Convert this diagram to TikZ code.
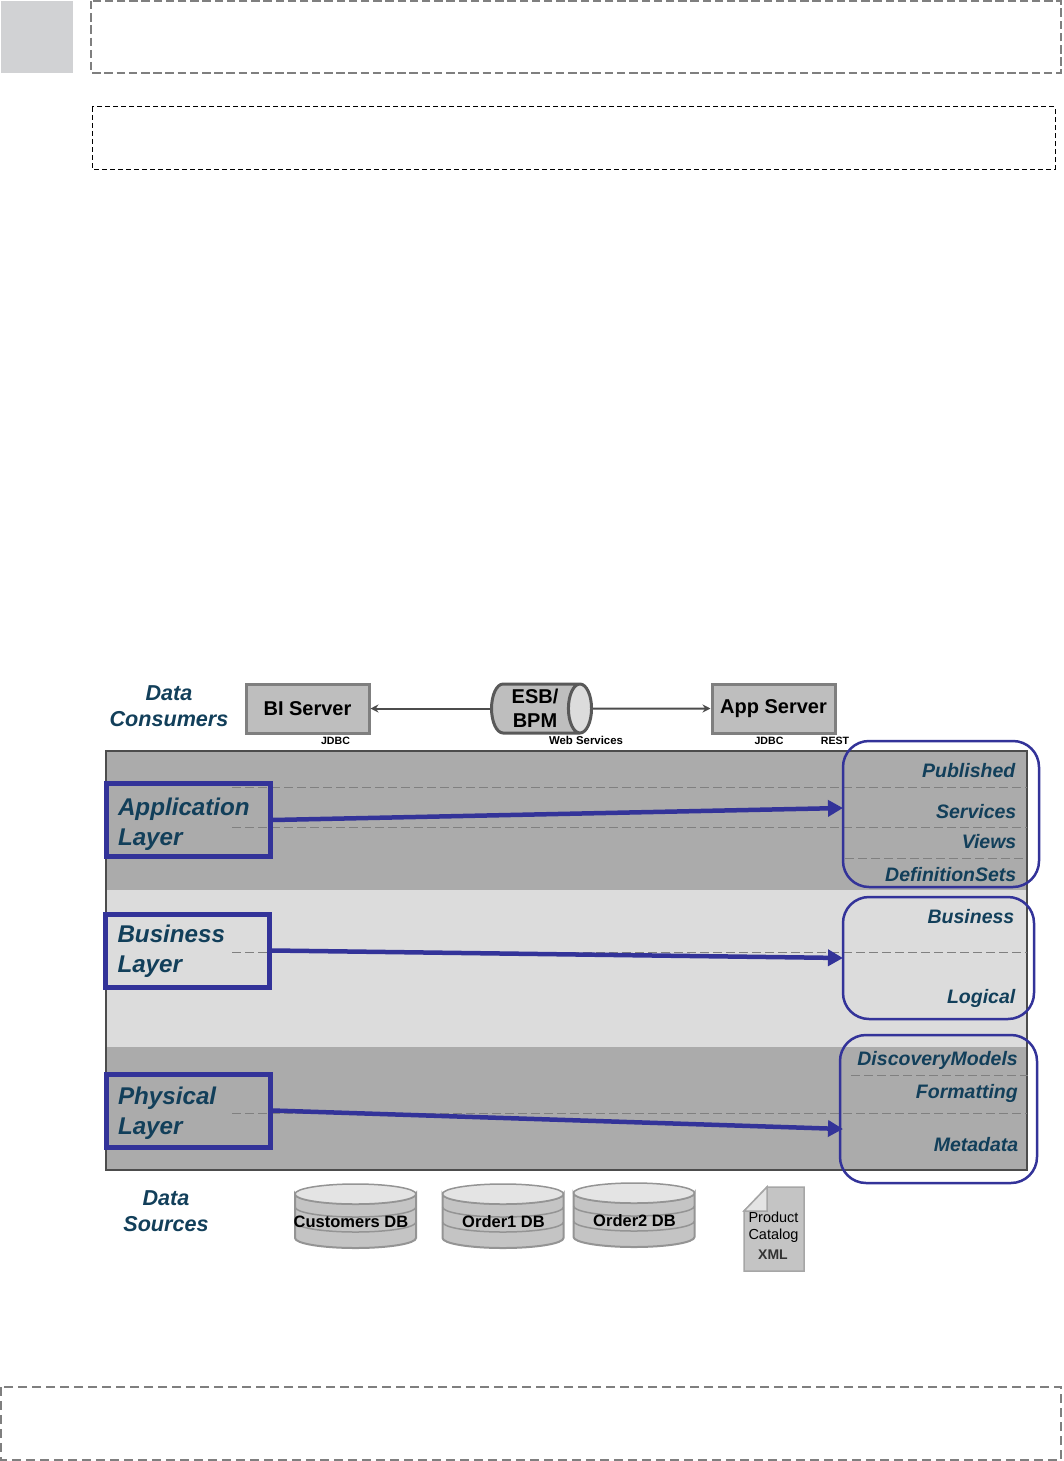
\documentclass[tikz,border=0pt]{standalone}
\usepackage{fontspec}
\setmainfont{Liberation Sans}
\usetikzlibrary{arrows.meta, shapes.geometric}
\definecolor{bandDark}{HTML}{ABABAB}
\definecolor{bandLight}{HTML}{DCDCDC}
\definecolor{layerBlue}{HTML}{333399}
\definecolor{labelText}{HTML}{123F5A}
\definecolor{serverFill}{HTML}{BEBEBE}
\definecolor{serverEdge}{HTML}{7F7F7F}
\definecolor{dbFill}{HTML}{C4C4C4}
\definecolor{dbTop}{HTML}{E4E4E4}
\tikzset{
  blankframe/.style={draw=serverEdge, line width=2pt, dash pattern=on 8.5pt off 3.7pt},
  rowline/.style={draw=black!50, line width=1pt, dash pattern=on 9pt off 4pt},
  server/.style={draw=serverEdge, fill=serverFill, line width=3pt, minimum width=123pt, minimum height=49pt, inner sep=0pt, font=\bfseries\fontsize{20}{24}\selectfont},
  tiny/.style={inner sep=0pt, font=\bfseries\fontsize{10.6}{12}\selectfont},
  tier/.style={inner sep=0pt, align=center, text=labelText, font=\bfseries\itshape\fontsize{21.6}{26}\selectfont},
  layer/.style={draw=layerBlue, line width=5pt, inner xsep=12pt, inner ysep=0pt, text width=140pt, minimum height=73pt, align=left, text=labelText, font=\bfseries\itshape\fontsize{24.2}{30}\selectfont},
  raised/.style={execute at begin node={\rule{0pt}{#1}}},
  group/.style={draw=layerBlue, line width=2.5pt, rounded corners=26pt, inner sep=0pt, outer sep=0pt},
  part/.style={anchor=base east, inner sep=0pt, text=labelText, font=\bfseries\itshape\fontsize{19.5}{22}\selectfont},
  jump/.style={draw=layerBlue, line width=4.5pt, -{Stealth[length=15pt, width=16pt, inset=0pt]}},
  feed/.style={draw=black!70, line width=2pt, -{Stealth[length=8pt, width=8pt]}},
  dbname/.style={inner sep=0pt, font=\bfseries\fontsize{16.5}{20}\selectfont}
}

\begin{document}
\begin{tikzpicture}[x=1pt, y=-1pt]
	\useasboundingbox (0,0) rectangle (1063,1461);
	% empty frames
	\fill[color={rgb,255:red,209;green,210;blue,212}] (1,1) rectangle (73,73);
	\draw[blankframe] (91,1) rectangle (1061,73);
	\draw[black, line width=1pt, dash pattern=on 5pt off 3pt] (92,107) rectangle (1055,169);
	\draw[blankframe, dash pattern=on 9pt off 5pt] (1,1387) rectangle (1061,1460);

	% bands
	\fill[bandDark] (106,751) rectangle (1027,890);
	\fill[bandLight] (106,890) rectangle (1027,1047);
	\fill[bandDark] (106,1047) rectangle (1027,1170);
	\draw[black!70, line width=1.2pt] (106,751) rectangle (1027,1170);
	\foreach \y in {787,827,952,1113} {
		\draw[rowline] (232,\y) -- (1027,\y);
	}
	\draw[rowline, line width=0.8pt] (845,858) -- (1023,858);
	\draw[rowline, line width=0.8pt] (851,1075) -- (1028,1075);

	% consumers
	\node[tier] (consumers) at (169,706.5) {Data\\Consumers};
	\node[server] (biserver) at (307.5,708.5) {BI Server};
	\node[server] (appserver) at (773.5,708.5) {App Server};
	\node[cylinder, draw=black!65, line width=3pt, aspect=0.6, minimum height=100pt, minimum width=49pt, inner sep=0pt,
		cylinder uses custom fill, cylinder body fill=serverFill, cylinder end fill=bandLight,
		align=center, font=\bfseries\fontsize{20}{24}\selectfont] (esb) at (535,708.5) {ESB/\\BPM};
	\draw[feed] (esb.west) -- (biserver.east);
	\draw[feed] (esb.east) -- (appserver.west);
	\node[tiny] (jdbcbi) at (335.5,741) {JDBC};
	\node[tiny, font=\bfseries\fontsize{11.4}{12}\selectfont] (webservices) at (586,740.5) {Web Services};
	\node[tiny] (jdbcapp) at (769,741) {JDBC};
	\node[tiny] (rest) at (835,741) {REST};

	% layers
	\node[layer, raised=25.5pt] (application) at (188,820) {Application\\Layer};
	\node[layer, raised=19.5pt] (business) at (187.5,950.5) {Business\\Layer};
	\node[layer, raised=23.5pt] (physical) at (188,1110.5) {Physical\\Layer};

	% right side groups
	\node[group, minimum width=196pt, minimum height=146pt] (appgroup) at (941,814) {};
	\node[group, minimum width=191pt, minimum height=122pt] (busgroup) at (938.5,958) {};
	\node[group, minimum width=197pt, minimum height=148pt] (phygroup) at (938.5,1109) {};
	\draw[jump] (application.east) -- ([yshift=6pt]appgroup.west);
	\draw[jump] (business.east) -- (busgroup.west);
	\draw[jump] (physical.east) -- ([xshift=3pt, yshift=-20pt]phygroup.west);

	\node[part] (published) at (1015.5,777) {Published};
	\node[part] (services) at (1016.5,818) {Services};
	\node[part] (views) at (1016.5,848) {Views};
	\node[part] (definitionsets) at (1016.5,881) {DefinitionSets};
	\node[part] (businesspart) at (1014.5,923) {Business};
	\node[part] (logical) at (1015.5,1003) {Logical};
	\node[part] (discovery) at (1018,1065) {DiscoveryModels};
	\node[part] (formatting) at (1018,1098) {Formatting};
	\node[part] (metadata) at (1018.5,1151) {Metadata};

	% sources
	\node[tier] (sources) at (166,1211.5) {Data\\Sources};
	\foreach \x/\top/\dbid/\dbtext/\tx in {355.5/1194/customers/Customers DB/351, 503/1194/orderone/Order1 DB/503.5, 634/1193/ordertwo/Order2 DB/634.5} {
		\draw[draw=black!42, fill=dbFill, line width=2pt] (\x-60.5,\top) -- (\x-60.5,\top+44)
			arc[start angle=180, end angle=0, x radius=60.5, y radius=10] -- (\x+60.5,\top)
			arc[start angle=0, end angle=180, x radius=60.5, y radius=10] -- cycle;
		\draw[draw=black!42, line width=1.5pt] (\x-60.5,\top+13) arc[start angle=180, end angle=0, x radius=60.5, y radius=10];
		\draw[draw=black!42, line width=1.5pt] (\x-60.5,\top+28) arc[start angle=180, end angle=0, x radius=60.5, y radius=10];
		\draw[draw=black!42, fill=dbTop, line width=1.5pt] (\x,\top) ellipse[x radius=60.5, y radius=10];
		\node[dbname] (\dbid) at (\tx,\top+28) {\dbtext};
	}
	\draw[draw=black!35, fill=dbFill, line width=1.5pt] (767,1187) -- (804,1187) -- (804,1271) -- (744,1271) -- (744,1211) -- cycle;
	\draw[draw=black!35, fill=dbTop, line width=1.5pt] (744,1211) -- (767,1211) -- (767,1187) -- cycle;
	\node[inner sep=0pt, align=center, font=\fontsize{14.5}{16.5}\selectfont] (catalog) at (773.5,1227) {Product\\Catalog};
	\node[inner sep=0pt, font=\bfseries\fontsize{14}{16}\selectfont, text=black!80] (xml) at (773,1255) {XML};
\end{tikzpicture}
\end{document}
